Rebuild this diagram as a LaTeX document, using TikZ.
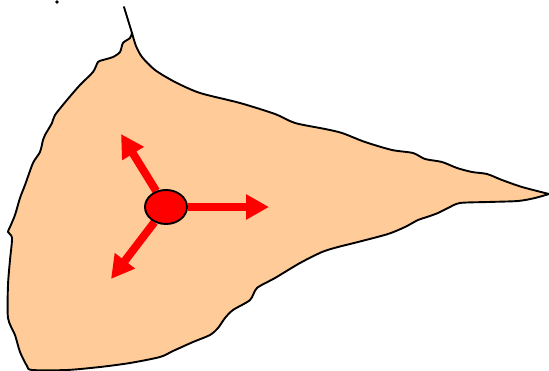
\documentclass[tikz,border=0pt]{standalone}
\usetikzlibrary{arrows.meta,shapes.geometric}
\pgfdeclarelayer{bg}
\pgfsetlayers{bg,main}
\definecolor{peach}{RGB}{255,204,153}
\tikzset{
  outline/.style={draw=black, line width=1.9pt, fill=peach, line join=round},
  arr/.style={draw=red, line width=8pt, -{Triangle[length=23pt,width=24pt]}},
  center/.style={ellipse, draw=black, fill=red, line width=1.9pt, minimum width=42pt, minimum height=34pt, inner sep=0pt}
}
\begin{document}
\begin{tikzpicture}[x=1pt,y=-1pt]
\useasboundingbox (0,0) rectangle (549,371);
\begin{pgfonlayer}{bg}
\draw[outline] plot[smooth, tension=0.45] coordinates {(132,33) (136,46) (142,57) (155,70) (175,82) (200,93) (240,103) (275,114) (295,123) (325,129) (342,133) (365,142) (392,150) (413,153) (425,159) (442,162) (457,168) (472,172) (487,174) (502,180) (522,187) (549,194)}
 -- plot[smooth, tension=0.45] coordinates {(549,194) (535,198) (518,201) (488,202) (460,203) (448,208) (438,213) (427,217) (418,220) (405,227) (388,234) (358,242) (338,247) (322,252) (300,263) (275,278) (257,288) (250,300) (233,310) (225,318) (218,328) (210,335) (193,342) (173,351) (160,357) (130,363) (100,367) (67,370) (32,370) (27,366) (20,352) (15,335) (8,318) (8,285) (10,260) (12,238) (8,232) (10,227) (15,215) (20,198) (25,185) (33,163) (40,152) (43,140) (45,135) (52,123) (55,115) (67,100) (80,85) (93,72) (98,62) (103,60) (113,57) (120,52) (123,43) (130,38) (132,33)} -- cycle;
\draw[line width=1.9pt, line cap=round] (132,33) -- (124,7);
\fill (57,2) circle (1.8pt);
\end{pgfonlayer}
\node[center] (c) at (166,207) {};
\coordinate (t1) at (121,134);
\coordinate (t2) at (269,207);
\coordinate (t3) at (111,279);
\begin{pgfonlayer}{bg}
\draw[arr] (c) -- (t1);
\draw[arr] (c) -- (t2);
\draw[arr] (c) -- (t3);
\end{pgfonlayer}
\end{tikzpicture}
\end{document}
